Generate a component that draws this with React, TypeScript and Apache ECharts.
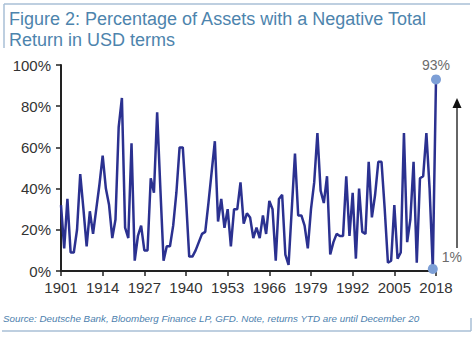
import React, { useEffect, useRef } from "react";
import * as echarts from "echarts";

const startYear = 1901;
const values: number[] = [
  32, 11, 35, 9, 9, 20, 47, 30, 12, 29,
  18, 30, 42, 56, 40, 32, 16, 25, 70, 84,
  21, 16, 62, 5, 17, 22, 10, 10, 45, 38,
  77, 40, 5, 12, 12, 22, 38, 60, 60, 35,
  7, 7, 10, 14, 18, 19, 33, 48, 63, 24,
  35, 21, 30, 12, 30, 30, 43, 23, 28, 26,
  16, 21, 16, 27, 18, 34, 30, 5, 35, 37,
  8, 3, 30, 57, 27, 27, 22, 11, 30, 43,
  67, 39, 33, 46, 8, 14, 18, 17, 17, 46,
  17, 38, 6, 40, 19, 18, 53, 26, 37, 53,
  53, 30, 4, 5, 32, 6, 9, 67, 14, 25,
  53, 4, 45, 46, 67, 40, 1, 93,
];
const years: string[] = values.map((_, i) => String(startYear + i));
const highlighted: Record<string, { label: string; pos: any }> = {
  "2017": { label: "1%", pos: [14, -14] },
  "2018": { label: "93%", pos: "top" },
};
const titleLines = ["Figure 2: Percentage of Assets with a Negative Total", "Return in USD terms"];
const sourceText = "Source: Deutsche Bank, Bloomberg Finance LP, GFD. Note, returns YTD are until December 20";

export default function App() {
  const ref = useRef<HTMLDivElement>(null);
  useEffect(() => {
    document.body.style.margin = "0";
    const chart = echarts.init(ref.current!, null, { renderer: "svg" });
    const seriesData = values.map((v, i) => {
      const h = highlighted[years[i]];
      if (!h) return { value: v, symbol: "none" };
      return {
        value: v,
        symbol: "circle",
        symbolSize: 10,
        itemStyle: { color: "#7d9fd6" },
        label: {
          show: true,
          position: h.pos,
          distance: 2,
          formatter: h.label,
          color: "#6b6b6b",
          fontSize: 14,
          fontFamily: "Liberation Sans, Arial, sans-serif",
        },
      };
    });
    const frame = "#a9bfd6";
    const titleFont = "Liberation Sans, Arial, sans-serif";
    chart.setOption({
      animation: false,
      backgroundColor: "#ffffff",
      grid: { left: 61, right: 39, top: 65, bottom: 66 },
      xAxis: {
        type: "category",
        data: years,
        boundaryGap: false,
        axisLine: { lineStyle: { color: "#222", width: 2 } },
        axisTick: { interval: 12, length: 5, lineStyle: { color: "#222", width: 1.5 } },
        axisLabel: {
          interval: 12,
          color: "#333",
          fontSize: 15,
          margin: 9,
          fontFamily: "Liberation Sans, Arial, sans-serif",
        },
        splitLine: { show: false },
      },
      yAxis: {
        type: "value",
        min: 0,
        max: 100,
        interval: 20,
        axisLine: { show: true, lineStyle: { color: "#222", width: 2 } },
        axisTick: { show: true, length: 5, lineStyle: { color: "#222", width: 1.5 } },
        axisLabel: {
          formatter: "{value}%",
          color: "#333",
          fontSize: 15,
          margin: 10,
          fontFamily: "Liberation Sans, Arial, sans-serif",
        },
        splitLine: { show: false },
      },
      series: [
        {
          type: "line",
          data: seriesData,
          showSymbol: true,
          showAllSymbol: true,
          clip: false,
          symbol: "circle",
          lineStyle: { color: "#2b3190", width: 2.5 },
          itemStyle: { color: "#2b3190" },
          labelLayout: { hideOverlap: false },
          z: 3,
        },
      ],
      graphic: [
        { type: "line", shape: { x1: 4, y1: 4, x2: 470, y2: 4 }, style: { stroke: frame, lineWidth: 1.5 } },
        { type: "line", shape: { x1: 4, y1: 4, x2: 4, y2: 48 }, style: { stroke: frame, lineWidth: 1.5 } },
        { type: "line", shape: { x1: 2, y1: 331, x2: 471, y2: 331 }, style: { stroke: frame, lineWidth: 1.5 } },
        { type: "line", shape: { x1: 471, y1: 318, x2: 471, y2: 331 }, style: { stroke: frame, lineWidth: 1.5 } },
        {
          type: "text",
          left: 9,
          top: 10,
          style: { text: titleLines[0], fill: "#4d84ad", fontSize: 18, fontFamily: titleFont },
        },
        {
          type: "text",
          left: 9,
          top: 31,
          style: { text: titleLines[1], fill: "#4d84ad", fontSize: 18, fontFamily: titleFont },
        },
        {
          type: "text",
          left: 3,
          top: 313,
          style: {
            text: sourceText,
            fill: "#4d7fae",
            fontSize: 9.8,
            fontStyle: "italic",
            fontFamily: "Liberation Sans, Arial, sans-serif",
          },
        },
        { type: "line", shape: { x1: 457, y1: 248, x2: 457, y2: 106 }, style: { stroke: "#333", lineWidth: 1.5 } },
        {
          type: "polygon",
          shape: { points: [[457, 98], [452.5, 108], [461.5, 108]] },
          style: { fill: "#111" },
        },
      ],
    });
    return () => chart.dispose();
  }, []);
  return <div ref={ref} style={{ position: "fixed", left: 0, top: 0, width: 475, height: 337 }} />;
}
